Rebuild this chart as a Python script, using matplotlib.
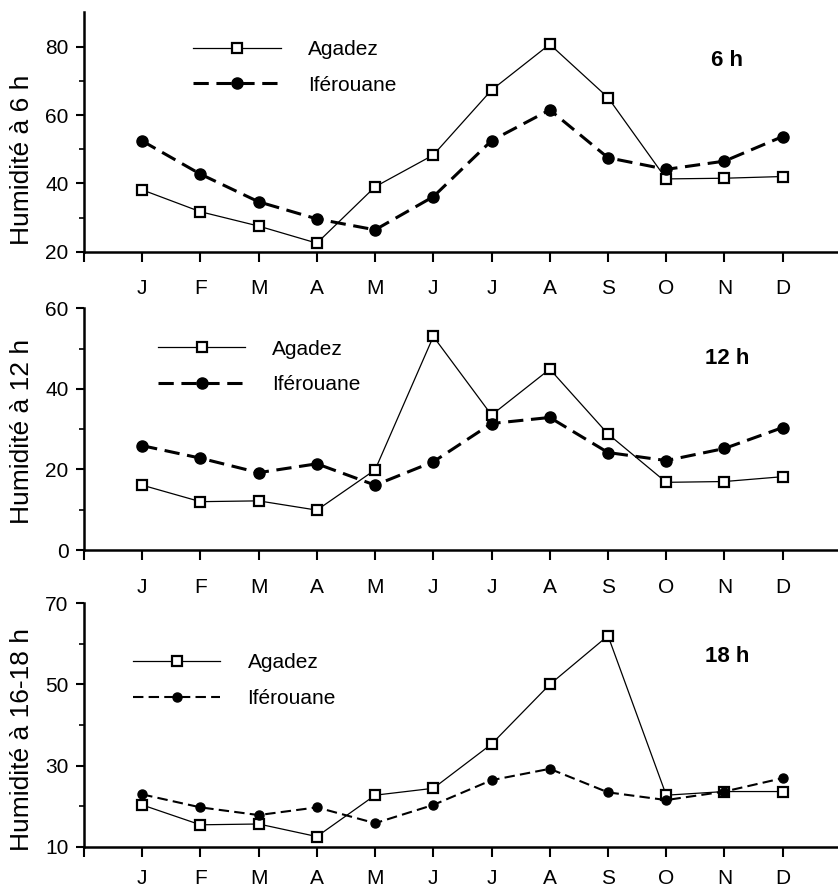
import matplotlib
matplotlib.use('Agg')
import matplotlib.pyplot as plt

plt.rcParams['font.family'] = ['Liberation Sans', 'DejaVu Sans']

months = ['J', 'F', 'M', 'A', 'M', 'J', 'J', 'A', 'S', 'O', 'N', 'D']
month_pos = list(range(1, 13))

# humidity at 6 h
agadez_6 = [38.1, 31.7, 27.5, 22.5, 39.0, 48.3, 67.3, 80.7, 65.1, 41.3, 41.5, 42.0]
iferouane_6 = [52.4, 42.7, 34.6, 29.6, 26.4, 36.1, 52.5, 61.5, 47.5, 44.1, 46.5, 53.7]

# humidity at 12 h
agadez_12 = [16.1, 12.0, 12.2, 9.9, 19.9, 53.0, 33.5, 44.9, 28.8, 16.8, 17.0, 18.2]
iferouane_12 = [25.9, 22.8, 19.2, 21.4, 16.1, 21.9, 31.4, 32.9, 24.2, 22.2, 25.2, 30.4]

# humidity at 16-18 h
agadez_18 = [20.3, 15.4, 15.6, 12.5, 22.7, 24.4, 35.3, 50.0, 62.0, 22.7, 23.6, 23.6]
iferouane_18 = [22.9, 19.7, 17.8, 19.7, 15.8, 20.3, 26.4, 29.2, 23.4, 21.5, 23.6, 26.9]

fig = plt.figure(figsize=(8.38, 8.91), dpi=100)

panels = [
    # axes rect, data, ylim, major, minor, ylabel, label y, tag, tag y, legend anchor, dash lw, dot size, xpad
    ([0.1002, 0.7175, 0.8998, 0.2685], agadez_6, iferouane_6, (20, 90), [20, 40, 60, 80], [30, 50, 70],
     'Humidité à 6 h', 0.383, '6 h', 0.80, (0.145, 0.885), 2.2, 8, 13),
    ([0.1002, 0.3827, 0.8998, 0.2713], agadez_12, iferouane_12, (0, 60), [0, 20, 40, 60], [10, 30, 50],
     'Humidité à 12 h', 0.49, '12 h', 0.794, (0.098, 0.87), 2.2, 8, 13),
    ([0.1002, 0.0497, 0.8998, 0.2732], agadez_18, iferouane_18, (10, 70), [10, 30, 50, 70], [20, 40, 60],
     'Humidité à 16-18 h', 0.44, '18 h', 0.78, (0.065, 0.795), 1.5, 6.5, 9),
]

for rect, aga, ife, ylim, major, minor, ylabel, ly, tag, ty, anchor, dlw, dms, xpad in panels:
    ax = fig.add_axes(rect)
    ax.plot(month_pos, aga, color='black', lw=0.9, marker='s', ms=7, mfc='white',
            mec='black', mew=1.6, label='Agadez')
    ax.plot(month_pos, ife, color='black', lw=dlw, dashes=(5, 2.5), marker='o', ms=dms,
            mfc='black', mec='black', label='Iférouane')

    ax.set_xlim(0, 12.95)
    ax.set_ylim(*ylim)
    ax.set_xticks([0] + month_pos)
    ax.set_xticklabels([''] + months, fontsize=15)
    ax.set_yticks(major)
    ax.set_yticks(minor, minor=True)
    ax.set_yticklabels([str(v) for v in major], fontsize=15)
    ax.tick_params(axis='x', direction='out', length=7, width=1.5, pad=xpad)
    ax.tick_params(axis='y', which='major', direction='out', length=6, width=1.5, pad=5)
    ax.tick_params(axis='y', which='minor', direction='out', length=3.5, width=1.2)

    for side in ['top', 'right']:
        ax.spines[side].set_visible(False)
    for side in ['left', 'bottom']:
        ax.spines[side].set_linewidth(1.8)

    ax.set_ylabel(ylabel, fontsize=19)
    ax.yaxis.set_label_coords(-0.066, ly)

    ax.text(0.853, ty, tag, transform=ax.transAxes, fontsize=16, fontweight='bold',
            ha='center', va='center')

    ax.legend(loc='upper left', bbox_to_anchor=anchor, frameon=False, fontsize=15,
              handlelength=4.2, handletextpad=1.3, labelspacing=0.8,
              borderpad=0, borderaxespad=0)

fig.savefig('out.png', dpi=100)
